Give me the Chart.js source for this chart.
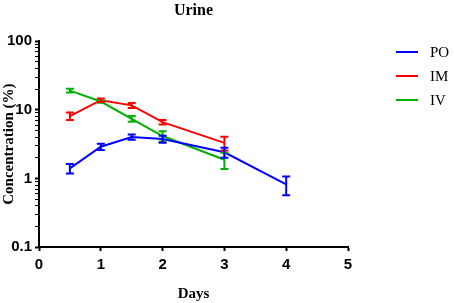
<!DOCTYPE html>
<html>
<head>
<meta charset="utf-8">
<script src="https://cdn.jsdelivr.net/npm/chart.js@4"></script>
<style>
  body { margin: 0; background: #fff; }
  #wrap { width: 454px; height: 303px; }
</style>
</head>
<body>
<div id="wrap"><canvas id="myChart" width="454" height="303"></canvas></div>
<script>
// days and values
var days = [0.5, 1, 1.5, 2, 3, 4];
var poMean = [1.40, 2.90, 4.00, 3.75, 2.40, 0.82];
var poErr  = [0.22, 0.30, 0.35, 0.45, 0.40, 0.25];
var imMean = [8.1, 13.8, 11.6, 6.6, 3.3];
var imErr  = [1.0, 0.8, 1.0, 0.5, 0.75];
var ivMean = [19.0, 13.2, 7.4, 4.15, 1.87];
var ivErr  = [1.2, 0.5, 0.7, 0.7, 0.5];
var xTicks = [0, 1, 2, 3, 4, 5];
var yMajor = [0.1, 1, 10, 100];

function pts(xs, ys) {
  return ys.map(function (v, i) { return {x: xs[i], y: v}; });
}

// error bars drawn with the chart's own scales
var errorBars = {
  id: 'errorBars',
  afterDatasetsDraw: function (chart) {
    var ctx = chart.ctx, ys = chart.scales.y;
    for (var d = chart.data.datasets.length - 1; d >= 0; d--) {
      var ds = chart.data.datasets[d];
      var meta = chart.getDatasetMeta(d);
      ctx.save();
      ctx.strokeStyle = ds.borderColor;
      ctx.lineWidth = 2;
      meta.data.forEach(function (p, i) {
        var v = ds.data[i].y, e = ds.errors[i];
        var top = ys.getPixelForValue(v + e), bot = ys.getPixelForValue(v - e);
        ctx.beginPath();
        ctx.moveTo(p.x, top); ctx.lineTo(p.x, bot);
        ctx.moveTo(p.x - 4, top); ctx.lineTo(p.x + 4, top);
        ctx.moveTo(p.x - 4, bot); ctx.lineTo(p.x + 4, bot);
        ctx.stroke();
      });
      ctx.restore();
    }
  }
};

// legend on the right, line + name for each dataset
var sideLegend = {
  id: 'sideLegend',
  afterDraw: function (chart) {
    var ctx = chart.ctx;
    ctx.save();
    ctx.font = '15px "Liberation Serif"';
    ctx.textBaseline = 'middle';
    ctx.fillStyle = '#000';
    chart.data.datasets.forEach(function (ds, i) {
      var y = 52 + i * 24;
      ctx.strokeStyle = ds.borderColor;
      ctx.lineWidth = 2;
      ctx.beginPath();
      ctx.moveTo(396, y); ctx.lineTo(418, y);
      ctx.stroke();
      ctx.fillText(ds.label, 430, y + 1);
    });
    ctx.restore();
  }
};

var ctx = document.getElementById('myChart').getContext('2d');
var myChart = new Chart(ctx, {
  type: 'line',
  data: {
    datasets: [{
      label: 'PO',
      data: pts(days, poMean),
      errors: poErr,
      borderColor: '#0000ff',
      backgroundColor: '#0000ff',
      borderWidth: 2,
      pointRadius: 0
    }, {
      label: 'IM',
      data: pts(days, imMean),
      errors: imErr,
      borderColor: '#ff0000',
      backgroundColor: '#ff0000',
      borderWidth: 2,
      pointRadius: 0
    }, {
      label: 'IV',
      data: pts(days, ivMean),
      errors: ivErr,
      borderColor: '#00b000',
      backgroundColor: '#00b000',
      borderWidth: 2,
      pointRadius: 0
    }]
  },
  options: {
    responsive: false,
    animation: false,
    layout: { padding: { top: 0, right: 106, bottom: 0, left: 0 } },
    plugins: {
      title: {
        display: true,
        fullSize: false,
        text: 'Urine',
        color: '#000',
        font: { family: 'Liberation Serif', size: 16, weight: 'bold' },
        padding: { top: 1, bottom: 21 }
      },
      legend: { display: false },
      tooltip: { enabled: false }
    },
    scales: {
      x: {
        type: 'linear',
        min: 0,
        max: 5,
        afterBuildTicks: function (s) { s.ticks = xTicks.map(function (v) { return {value: v}; }); },
        grid: { display: true, drawOnChartArea: false, tickLength: 4, tickWidth: 2, tickColor: '#000' },
        border: { display: true, color: '#000', width: 2 },
        ticks: { color: '#000', padding: 5, font: { family: 'Liberation Sans', size: 15, weight: 'bold' } },
        title: {
          display: true,
          text: 'Days',
          color: '#000',
          font: { family: 'Liberation Serif', size: 15, weight: 'bold' },
          padding: { top: 6, bottom: 0 }
        }
      },
      y: {
        type: 'logarithmic',
        min: 0.1,
        max: 100,
        afterBuildTicks: function (s) {
          var t = [];
          yMajor.forEach(function (m, k) {
            if (k === yMajor.length - 1) { t.push({value: m}); return; }
            for (var j = 1; j <= 9; j++) t.push({value: +(m * j).toPrecision(3)});
          });
          s.ticks = t;
        },
        afterFit: function (s) { s.width = 39; },
        grid: {
          display: true, drawOnChartArea: false, tickLength: 4, tickColor: '#000',
          tickWidth: function (c) { return yMajor.indexOf(c.tick.value) >= 0 ? 2 : 1; }
        },
        border: { display: true, color: '#000', width: 2 },
        ticks: {
          color: '#000',
          padding: 3,
          autoSkip: false,
          font: { family: 'Liberation Sans', size: 15, weight: 'bold' },
          callback: function (v) { return yMajor.indexOf(v) >= 0 ? String(v) : ''; }
        },
        title: {
          display: true,
          text: 'Concentration (%)',
          color: '#000',
          font: { family: 'Liberation Serif', size: 15, weight: 'bold' },
          padding: { top: 0, bottom: 2 }
        }
      }
    }
  },
  plugins: [errorBars, sideLegend]
});
</script>
</body>
</html>
